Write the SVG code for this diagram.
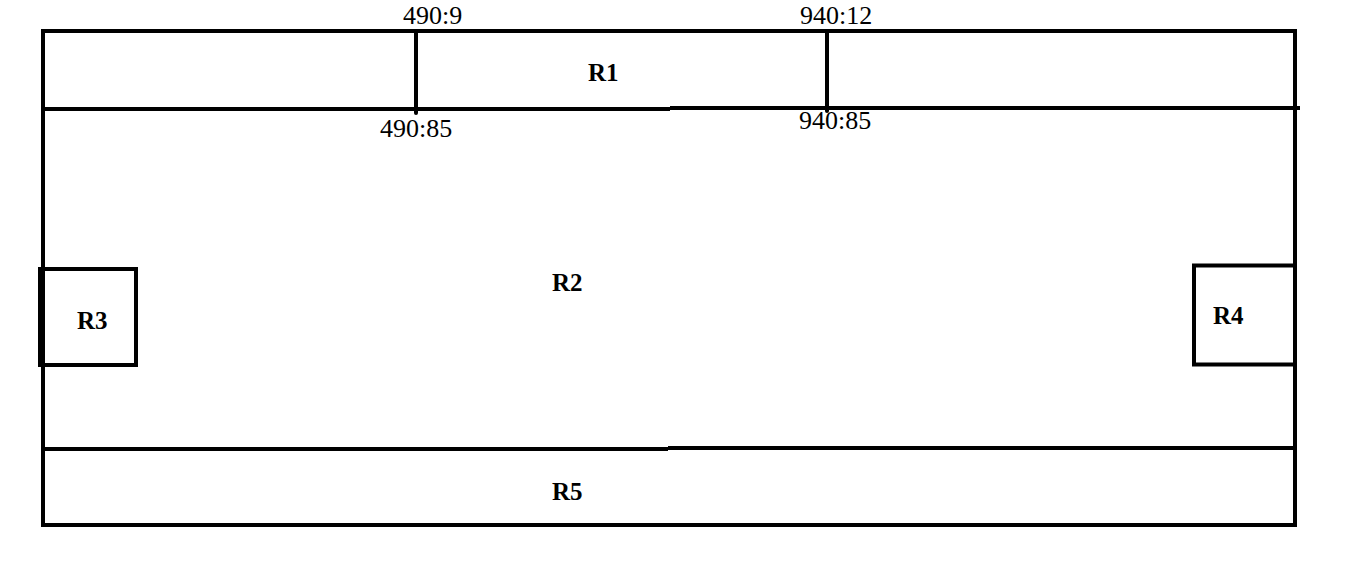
<svg xmlns="http://www.w3.org/2000/svg" width="1359" height="562" viewBox="0 0 1359 562">
<style>
.ln{stroke:#000;stroke-width:4;fill:none}
.lbl{font-family:'Liberation Serif','Tinos','Times New Roman','DejaVu Serif',serif;font-size:26px;fill:#000}
.rl{font-family:'Liberation Serif','Tinos','Times New Roman','DejaVu Serif',serif;font-size:25px;font-weight:bold;fill:#000}
</style>
<rect width="1359" height="562" fill="#fff"/>
<g id="outer">
<rect class="ln" x="43" y="31" width="1252" height="494"/>
</g>
<g id="R1">
<path class="ln" d="M43 109H670M670 108H1300"/>
<text class="rl" x="588" y="81">R1</text>
</g>
<g id="R2">
<text class="rl" x="552" y="291">R2</text>
</g>
<g id="R3">
<rect class="ln" x="40" y="269" width="96" height="96"/>
<text class="rl" x="77" y="329">R3</text>
</g>
<g id="R4">
<rect class="ln" x="1194" y="265.5" width="101" height="99"/>
<text class="rl" x="1213" y="324">R4</text>
</g>
<g id="R5">
<path class="ln" d="M43 449H668M668 448H1295"/>
<text class="rl" x="552" y="500">R5</text>
</g>
<g id="connectors">
<path class="ln" d="M416 31V113" stroke-linecap="round"/>
<path class="ln" d="M827 31V111" stroke-linecap="round"/>
</g>
<g id="labels">
<text class="lbl" x="403" y="24">490:9</text>
<text class="lbl" x="800" y="24">940:12</text>
<text class="lbl" x="380" y="137">490:85</text>
<text class="lbl" x="799" y="129">940:85</text>
</g>
</svg>
